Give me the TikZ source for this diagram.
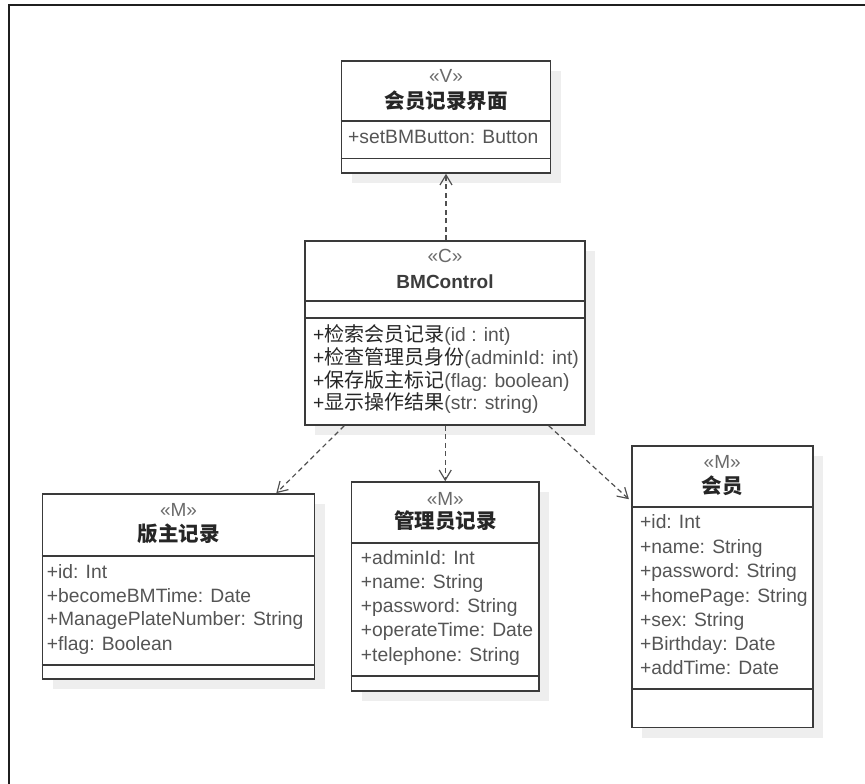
\documentclass[tikz,border=0pt]{standalone}
\usepackage{fontspec}
\setmainfont{Liberation Sans}
\newfontfamily\cjk{Noto Sans CJK SC}
\usetikzlibrary{arrows.meta,fit}
\definecolor{bord}{HTML}{3A3A3A}
\definecolor{attr}{HTML}{555555}
\definecolor{ster}{HTML}{6A6A6A}
\definecolor{ttl}{HTML}{262626}
\definecolor{shad}{HTML}{EEEEEE}
\definecolor{conn}{HTML}{505050}
\tikzset{
 cls/.style={draw=bord, line width=1.6pt, fill=white, inner sep=0pt},
 sepline/.style={draw=bord, line width=1.4pt},
 attrtxt/.style={anchor=west, inner sep=0pt, text height=14pt, text depth=4pt, font=\fontsize{19.3}{22}\selectfont, text=attr},
 methtxt/.style={anchor=west, inner sep=0pt, text height=15pt, text depth=5pt, font=\fontsize{19.3}{22}\selectfont, text=ttl},
 stertxt/.style={anchor=center, inner sep=0pt, text height=14pt, text depth=4pt, font=\fontsize{19}{22}\selectfont, text=ster},
 titletxt/.style={anchor=center, inner sep=0pt, text height=16pt, text depth=4pt, font=\fontsize{20.5}{24}\selectfont\bfseries, text=ttl},
 dep/.style={draw=conn, line width=1.2pt, dash pattern=on 5pt off 3.5pt, -{Straight Barb[length=10pt,width=12pt]}},
}
\newcommand\umlbox[5]{%
 \path (#2,#3) coordinate (#1-nw) (#4,#5) coordinate (#1-se);
 \fill[shad] ([shift={(10,10)}]#1-nw) rectangle ([shift={(10,10)}]#1-se);
 \node[cls, fit=(#1-nw)(#1-se)] (#1) {};
}
\newcommand\umlsep[2]{\draw[sepline] (#1.west |- 0,#2) -- (#1.east |- 0,#2);}
\begin{document}
\begin{tikzpicture}[x=1pt,y=-1pt]
\useasboundingbox (0,0) rectangle (865,784);
\draw[line width=2pt, black!88] (8.5,784) -- (8.5,5.5) -- (865,5.5);

% View
\umlbox{v}{341.5}{61}{550.5}{173}
\umlsep{v}{121}\umlsep{v}{158.5}
\node[stertxt] (v-s) at (446,78) {«V»};
\node[titletxt] (v-t) at (446,102) {\cjk 会员记录界面};
\node[attrtxt] (v-a1) at (348,138) {+setBMButton: Button};

% Control
\umlbox{c}{305}{241}{585}{425}
\umlsep{c}{301}\umlsep{c}{318}
\node[stertxt] (c-s) at (445,257.5) {«C»};
\node[titletxt, font=\fontsize{19}{24}\selectfont\bfseries, text=ttl!90!white] (c-t) at (445,282) {BMControl};
\node[methtxt] (c-m1) at (313,336) {+{\cjk\fontsize{20}{22}\selectfont 检索会员记录}{\color{attr}(id : int)}};
\node[methtxt] (c-m2) at (313,359) {+{\cjk\fontsize{20}{22}\selectfont 检查管理员身份}{\color{attr}(adminId: int)}};
\node[methtxt] (c-m3) at (313,382) {+{\cjk\fontsize{20}{22}\selectfont 保存版主标记}{\color{attr}(flag: boolean)}};
\node[methtxt] (c-m4) at (313,404) {+{\cjk\fontsize{20}{22}\selectfont 显示操作结果}{\color{attr}(str: string)}};

% BM record
\umlbox{b}{42.5}{494}{314.5}{679}
\umlsep{b}{556}\umlsep{b}{665}
\node[stertxt] (b-s) at (178.5,511) {«M»};
\node[titletxt] (b-t) at (178.5,535) {\cjk 版主记录};
\node[attrtxt] (b-a1) at (46.7,573) {+id: Int};
\node[attrtxt] (b-a2) at (46.7,597) {+becomeBMTime: Date};
\node[attrtxt] (b-a3) at (46.7,620) {+ManagePlateNumber: String};
\node[attrtxt] (b-a4) at (46.7,645) {+flag: Boolean};

% Admin record
\umlbox{a}{351.5}{482}{539}{691}
\umlsep{a}{543}\umlsep{a}{676}
\node[stertxt] (a-s) at (445.25,500) {«M»};
\node[titletxt] (a-t) at (445.25,522) {\cjk 管理员记录};
\node[attrtxt] (a-a1) at (360.7,559) {+adminId: Int};
\node[attrtxt] (a-a2) at (360.7,583) {+name: String};
\node[attrtxt] (a-a3) at (360.7,607.5) {+password: String};
\node[attrtxt] (a-a4) at (360.7,631) {+operateTime: Date};
\node[attrtxt] (a-a5) at (360.7,656) {+telephone: String};

% Member
\umlbox{m}{631.7}{446}{812.7}{727.5}
\umlsep{m}{507}\umlsep{m}{689}
\node[stertxt] (m-s) at (722.2,463.5) {«M»};
\node[titletxt] (m-t) at (722.2,487) {\cjk 会员};
\node[attrtxt] (m-a1) at (640,523.5) {+id: Int};
\node[attrtxt] (m-a2) at (640,548) {+name: String};
\node[attrtxt] (m-a3) at (640,572) {+password: String};
\node[attrtxt] (m-a4) at (640,597) {+homePage: String};
\node[attrtxt] (m-a5) at (640,621) {+sex: String};
\node[attrtxt] (m-a6) at (640,645) {+Birthday: Date};
\node[attrtxt] (m-a7) at (640,669.5) {+addTime: Date};

% dependencies
\draw[dep] (v.south |- c.north) -- (v.south);
\draw[dep] (a.north |- c.south) -- (a.north);
\draw[dep] ([xshift=40pt]c.south west) -- ([xshift=-39pt]b.north east);
\draw[dep] ([xshift=-37pt]c.south east) -- ([xshift=-2pt,yshift=-54pt]m.north west);
\end{tikzpicture}
\end{document}
